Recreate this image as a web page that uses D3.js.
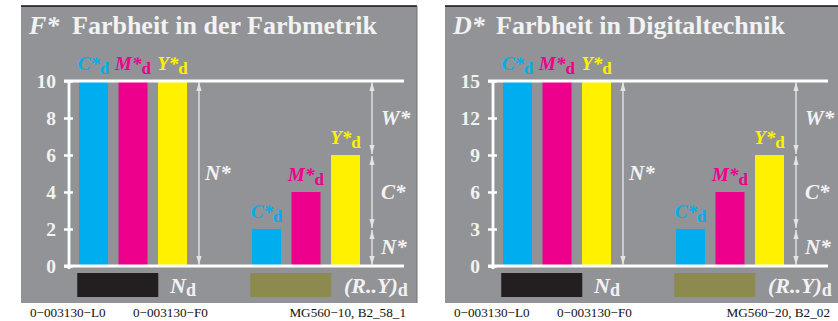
<!DOCTYPE html>
<html><head><meta charset="utf-8">
<script src="https://cdn.jsdelivr.net/npm/d3@7/dist/d3.min.js"></script>
<style>
html,body{margin:0;padding:0;background:#fff;}
svg{display:block;}
</style></head><body>
<svg id="chart" width="838" height="321"></svg>
<script>
// ---- data ----
const seriesNames = ["C*", "M*", "Y*"];
const seriesColors = ["#00aeef", "#ec008c", "#fff100"];
const groups = ["full", "chroma"];
const leftTitleSymbol = "F*";
const leftTitle = "Farbheit in der Farbmetrik";
const leftFullValues = [10, 10, 10];
const leftChromaValues = [2, 4, 6];
const leftTicks = [0, 2, 4, 6, 8, 10];
const leftMax = 10;
const leftCodeLabels = ["0\u2212003130\u2212L0", "0\u2212003130\u2212F0", "MG560\u221210, B2_58_1"];
const rightTitleSymbol = "D*";
const rightTitle = "Farbheit in Digitaltechnik";
const rightFullValues = [15, 15, 15];
const rightChromaValues = [3, 6, 9];
const rightTicks = [0, 3, 6, 9, 12, 15];
const rightMax = 15;
const rightCodeLabels = ["0\u2212003130\u2212L0", "0\u2212003130\u2212F0", "MG560\u221220, B2_02"];
const swatchLabels = ["N", "(R..Y)"];
const swatchColors = ["#231f20", "#8c8a4e"];

const FONT = "Liberation Serif";
const svg = d3.select("#chart");
const GRAY = "#929397";
const TXT = "#f2f2f2";
const ARROW = "#e4e4e4";

function drawPanel(ox, cfg) {
  const g = svg.append("g").attr("transform", `translate(${ox},0)`).attr("font-family", FONT);
  // background
  g.append("rect").attr("x", 21).attr("y", 6).attr("width", cfg.panelW).attr("height", 297).attr("fill", GRAY);
  g.append("line").attr("x1", 21).attr("x2", 21 + cfg.panelW).attr("y1", 6).attr("y2", 6)
    .attr("stroke", "#111").attr("stroke-width", 1.6);
  if (cfg.edge) g.append("line").attr("x1", 21 + cfg.panelW).attr("x2", 21 + cfg.panelW).attr("y1", 6).attr("y2", 303)
    .attr("stroke", "#6f7074").attr("stroke-width", 1);

  // title
  g.append("text").attr("x", 29).attr("y", 34).attr("fill", TXT).attr("font-family", FONT)
    .attr("font-size", 26).attr("font-weight", "bold").attr("font-style", "italic").text(cfg.symbol);
  g.append("text").attr("x", 72).attr("y", 34).attr("fill", TXT).attr("font-family", FONT)
    .attr("font-size", 26).attr("font-weight", "bold").text(cfg.title);

  const y = d3.scaleLinear().domain([0, cfg.max]).range([266, 81]);
  const gx = d3.scaleBand().domain(groups).range([73.75, 365.25]).paddingInner(0.315);
  const sx = d3.scaleBand().domain(seriesNames).range([0, gx.bandwidth()]).paddingInner(0.266).paddingOuter(0.133);

  // bars
  const barData = [];
  groups.forEach((grp, gi) => {
    const vals = gi === 0 ? cfg.full : cfg.chroma;
    seriesNames.forEach((s, i) => barData.push({grp, s, v: vals[i], c: seriesColors[i]}));
  });
  g.selectAll("rect.bar").data(barData).join("rect").attr("class", "bar")
    .attr("x", d => gx(d.grp) + sx(d.s)).attr("width", sx.bandwidth())
    .attr("y", d => y(d.v)).attr("height", d => y(0) - y(d.v)).attr("fill", d => d.c);

  // bar labels
  const lab = g.selectAll("text.blab").data(barData).join("text").attr("class", "blab")
    .attr("x", d => gx(d.grp) + sx(d.s) + sx.bandwidth() / 2)
    .attr("y", d => y(d.v) - 11).attr("text-anchor", "middle").attr("font-family", FONT)
    .attr("fill", d => d.c).attr("font-size", 19).attr("font-weight", "bold");
  lab.append("tspan").attr("font-style", "italic").text(d => d.s);
  lab.append("tspan").attr("dy", 4).attr("font-size", 17).text("d");

  // axes lines
  g.append("line").attr("x1", 64).attr("x2", 404).attr("y1", y(cfg.max)).attr("y2", y(cfg.max))
    .attr("stroke", "#fff").attr("stroke-width", 2.8);
  g.append("line").attr("x1", 64).attr("x2", 404).attr("y1", y(0)).attr("y2", y(0))
    .attr("stroke", "#fff").attr("stroke-width", 2.8);
  const ax = g.append("g").attr("transform", "translate(69,0)")
    .call(d3.axisLeft(y).tickValues(cfg.ticks).tickSize(5).tickPadding(8).tickFormat(d3.format("d")));
  ax.attr("font-family", FONT);
  ax.select(".domain").attr("d", `M0,${y(cfg.max)}V${y(0) + 3}`).attr("stroke", "#fff").attr("stroke-width", 2.8);
  ax.selectAll(".tick line").attr("x1", 4).attr("x2", -5).attr("stroke", "#fff").attr("stroke-width", 2.5);
  ax.selectAll(".tick text").attr("fill", TXT).attr("font-size", 19.5).attr("font-weight", "bold")
    .attr("font-family", FONT).attr("dy", "0.34em");

  // double arrows
  function dblArrow(x, y1, y2) {
    g.append("line").attr("x1", x).attr("x2", x).attr("y1", y1 + 1).attr("y2", y2 - 1)
      .attr("stroke", ARROW).attr("stroke-width", 1.4);
    g.append("path").attr("d", `M${x},${y1 + 1}l-2.6,9h5.2z`).attr("fill", ARROW);
    g.append("path").attr("d", `M${x},${y2 - 1}l-2.6,-9h5.2z`).attr("fill", ARROW);
  }
  const nx = 199;
  dblArrow(nx, y(cfg.max), y(0));
  const rx = 372;
  const ymx = d3.max(cfg.chroma), ymn = d3.min(cfg.chroma);
  dblArrow(rx, y(cfg.max), y(ymx));
  dblArrow(rx, y(ymx), y(ymn));
  dblArrow(rx, y(ymn), y(0));

  function starLabel(x, yy, txt) {
    g.append("text").attr("x", x).attr("y", yy).attr("fill", TXT).attr("font-size", 21).attr("font-family", FONT)
      .attr("font-weight", "bold").attr("font-style", "italic").text(txt);
  }
  starLabel(205, (y(cfg.max) + y(0)) / 2 + 6.5, "N*");
  starLabel(381, (y(cfg.max) + y(ymx)) / 2 + 7, "W*");
  starLabel(381, (y(ymx) + y(ymn)) / 2 + 7, "C*");
  starLabel(381, (y(ymn) + y(0)) / 2 + 6, "N*");

  // swatches
  groups.forEach((grp, gi) => {
    const x0 = gx(grp) + 3.5;
    g.append("rect").attr("x", x0).attr("y", 273).attr("width", 81).attr("height", 24).attr("fill", swatchColors[gi]);
    const st = g.append("text").attr("x", gi === 0 ? 170 : 344).attr("y", 293).attr("fill", TXT)
      .attr("font-family", FONT).attr("font-size", 22).attr("font-weight", "bold");
    st.append("tspan").attr("font-style", "italic").text(swatchLabels[gi]);
    st.append("tspan").attr("dy", 3).attr("font-size", 18).text("d");
  });

  // code labels
  const codeX = [30, 133, 406];
  cfg.codes.forEach((c, i) => {
    g.append("text").attr("x", codeX[i]).attr("y", 317).attr("font-size", 13.2).attr("fill", "#111")
      .attr("font-family", FONT).attr("text-anchor", i === 2 ? "end" : "start").text(c);
  });
}

drawPanel(0, {symbol: leftTitleSymbol, title: leftTitle, full: leftFullValues, chroma: leftChromaValues,
  ticks: leftTicks, max: leftMax, codes: leftCodeLabels, panelW: 396, edge: true});
drawPanel(424, {symbol: rightTitleSymbol, title: rightTitle, full: rightFullValues, chroma: rightChromaValues,
  ticks: rightTicks, max: rightMax, codes: rightCodeLabels, panelW: 400, edge: false});
</script>
</body></html>
